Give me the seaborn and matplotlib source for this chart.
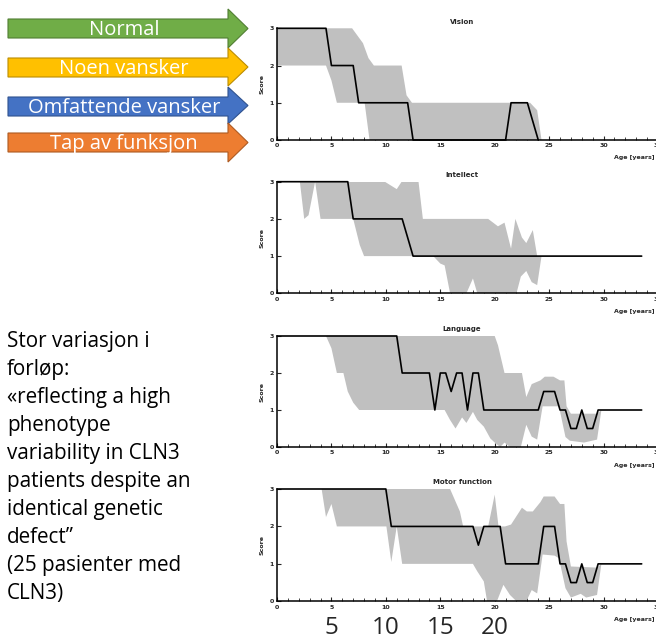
import numpy as np
import matplotlib
matplotlib.use("Agg")
import matplotlib.pyplot as plt
import seaborn as sns
from matplotlib.patches import Polygon
from matplotlib.ticker import MultipleLocator

# ---- data ----
panel_titles = ["Vision", "Intellect", "Language", "Motor function"]

# median score
vision_x = [0, 4.5, 5, 7, 7.5, 12, 12.5, 21, 21.5, 23, 24]
vision_y = [3, 3, 2, 2, 1, 1, 0, 0, 1, 1, 0]
intellect_x = [0, 6.5, 7, 11.5, 12.5, 33.5]
intellect_y = [3, 3, 2, 2, 1, 1]
language_x = [0, 11, 11.5, 14, 14.5, 15, 15.5, 16, 16.5, 17, 17.5, 18, 18.5, 19,
              24, 24.5, 25.5, 26, 26.5, 27, 27.5, 28, 28.5, 29, 29.5, 33.5]
language_y = [3, 3, 2, 2, 1, 2, 2, 1.5, 2, 2, 1, 2, 2, 1,
              1, 1.5, 1.5, 1, 1, 0.5, 0.5, 1, 0.5, 0.5, 1, 1]
motor_x = [0, 10, 10.5, 18, 18.5, 19, 20.5, 21, 24, 24.5, 25.5, 26, 26.5, 27,
           27.5, 28, 28.5, 29, 29.5, 33.5]
motor_y = [3, 3, 2, 2, 1.5, 2, 2, 1, 1, 2, 2, 1, 1, 0.5,
           0.5, 1, 0.5, 0.5, 1, 1]

# range band (upper / lower edge)
vision_up_x = [0, 6.9, 7.9, 8.4, 8.9, 11.45, 11.9, 12.4, 23.25, 23.9, 24.3]
vision_up_y = [3, 3, 2.6, 2.2, 2.0, 2.0, 1.2, 1.0, 1.0, 0.8, 0]
vision_lo_x = [0, 4.5, 5.0, 5.5, 8.05, 8.5, 24.3]
vision_lo_y = [2, 2, 1.6, 1.0, 1.0, 0, 0]

intellect_up_x = [0, 9.9, 11.0, 11.45, 13.0, 13.4, 19.4, 20.3, 20.9, 21.5, 21.9,
                  22.5, 22.9, 23.5, 23.9, 24.3]
intellect_up_y = [3, 3, 2.8, 3, 3, 2, 2, 1.8, 1.9, 1.2, 2.0,
                  1.5, 1.35, 1.7, 1.0, 1.0]
intellect_lo_x = [0, 2.1, 2.5, 2.9, 3.5, 4.0, 7.0, 7.6, 8.0, 14.35, 15.0, 15.4,
                  15.9, 17.4, 18.0, 18.4, 22.0, 22.4, 22.9, 23.4, 23.9, 24.3]
intellect_lo_y = [3, 3, 2.0, 2.1, 3, 2, 2, 1.3, 1.0, 1.0, 0.8, 0.75,
                  0, 0, 0.4, 0, 0, 0.45, 0.6, 0.3, 0.22, 1.0]

language_up_x = [0, 20.0, 20.3, 20.9, 22.5, 22.9, 23.4, 24.2, 24.6, 25.4, 26.0,
                 26.4, 26.6, 27.0, 29.4, 29.8]
language_up_y = [3, 3, 2.75, 2.0, 2.0, 1.35, 1.7, 1.8, 1.9, 1.9, 1.8,
                 1.8, 1.1, 0.9, 0.9, 1.0]
language_lo_x = [0, 4.5, 5.0, 5.5, 6.1, 6.5, 7.0, 7.55, 15.4, 15.9, 16.4, 17.0,
                 17.4, 18.0, 18.4, 19.0, 19.6, 20.0, 20.5, 20.9, 21.4, 22.4,
                 22.9, 23.4, 23.9, 24.4, 25.9, 26.5, 26.9, 28.2, 29.4, 29.8]
language_lo_y = [3, 3, 2.67, 2.0, 2.0, 1.5, 1.2, 1.0, 1.0, 0.73, 0.5, 0.8,
                 0.65, 0.95, 0.73, 0.55, 0.23, 0.12, 0, 0.12, 0, 0,
                 0.6, 0.28, 0.2, 1.1, 1.1, 0.27, 0.17, 0.12, 0.2, 1.0]

motor_up_x = [0, 15.9, 16.8, 17.1, 19.4, 20.0, 20.35, 20.95, 21.5, 22.5, 22.95,
              23.5, 24.2, 24.5, 25.5, 26.0, 26.4, 26.6, 27.0, 29.4, 29.8]
motor_up_y = [3, 3, 2.4, 2.0, 2.0, 2.85, 2.0, 2.0, 2.05, 2.5, 2.4,
              2.4, 2.65, 2.8, 2.8, 2.6, 2.6, 1.6, 0.93, 0.9, 1.0]
motor_lo_x = [0, 4.1, 4.5, 5.0, 5.5, 10.05, 10.5, 11.0, 11.5, 18.0, 18.4, 19.0,
              19.3, 20.2, 20.8, 21.4, 22.0, 22.9, 23.4, 23.9, 24.4, 25.5, 25.9,
              26.5, 27.0, 27.9, 28.4, 29.4, 29.8]
motor_lo_y = [3, 3, 2.25, 2.6, 2.0, 2.0, 1.05, 2.0, 1.0, 1.0, 0.8, 0.53,
              0, 0, 0.44, 0.17, 0, 0, 0.3, 0.21, 1.25, 1.22, 1.15,
              0.35, 0.1, 0.2, 0.1, 0.17, 1.0]

legend_labels = ["Normal", "Noen vansker", "Omfattende vansker", "Tap av funksjon"]
legend_colors = ["#70ad47", "#ffc000", "#4472c4", "#ed7d31"]
legend_edges = ["#507e32", "#bc8c00", "#2f528f", "#ae5a21"]

note_lines = ["Stor variasjon i", "forløp:", "«reflecting a high", "phenotype",
              "variability in CLN3", "patients despite an", "identical genetic",
              "defect\u201d", "(25 pasienter med", "CLN3)"]
bottom_ticks = [5, 10, 15, 20]

medians = [(vision_x, vision_y), (intellect_x, intellect_y),
           (language_x, language_y), (motor_x, motor_y)]
bands = [(vision_up_x, vision_up_y, vision_lo_x, vision_lo_y),
         (intellect_up_x, intellect_up_y, intellect_lo_x, intellect_lo_y),
         (language_up_x, language_up_y, language_lo_x, language_lo_y),
         (motor_up_x, motor_up_y, motor_lo_x, motor_lo_y)]

sns.set_theme(style="white")
plt.rcParams["font.family"] = ["DejaVu Sans"]

W, H = 656, 639
fig = plt.figure(figsize=(W / 100, H / 100), dpi=100)
fig.patch.set_facecolor("white")

# slide overlay in pixel coords
bg = fig.add_axes([0, 0, 1, 1])
bg.set_xlim(0, W)
bg.set_ylim(H, 0)
bg.axis("off")

arrow_rows = [(19, 38, 9, 48), (58, 77, 48, 86), (97, 116, 87, 124), (133, 152, 123, 162)]
for (bt, bb, ht, hb), lab, fc, ec in zip(arrow_rows, legend_labels, legend_colors, legend_edges):
    mid = (ht + hb) / 2
    pts = [(8, bt), (228, bt), (228, ht), (248, mid), (228, hb), (228, bb), (8, bb)]
    bg.add_patch(Polygon(pts, closed=True, facecolor=fc, edgecolor=ec, lw=0.8))
    bg.text(124, (bt + bb) / 2 + 1.5, lab, color="white", fontsize=14.5,
            family="Open Sans", ha="center", va="center")

for i, line in enumerate(note_lines):
    bg.text(7, 342 + i * 27.9, line, fontsize=14.9, family="Open Sans",
            ha="left", va="center", color="black")

# four panels
tops = [28.3, 181.7, 336, 489]
bottoms = [140, 293.3, 447, 601.3]
x0 = 277 / W
wid = (658 - 277) / W
axes = []
for k in range(4):
    ax = fig.add_axes([x0, 1 - bottoms[k] / H, wid, (bottoms[k] - tops[k]) / H])
    axes.append(ax)
    ux, uy, lx, ly = bands[k]
    ax.fill(np.r_[ux, lx[::-1]], np.r_[uy, ly[::-1]], color="#c0c0c0", lw=0, zorder=1)
    mx, my = medians[k]
    sns.lineplot(x=mx, y=my, ax=ax, color="black", lw=1.2, sort=False,
                 estimator=None, zorder=3)
    for l in ax.lines:
        l.set_clip_on(False)
    ax.set_xlim(0, 35)
    ax.set_ylim(0, 3)
    ax.patch.set_alpha(0)
    for s in ["top", "right"]:
        ax.spines[s].set_visible(False)
    for s in ["left", "bottom"]:
        ax.spines[s].set_color("black")
        ax.spines[s].set_linewidth(1.1)
    ax.xaxis.set_major_locator(MultipleLocator(5))
    ax.xaxis.set_minor_locator(MultipleLocator(1))
    ax.set_yticks([0, 1, 2, 3])
    ax.tick_params(axis="both", which="major", direction="in", length=3, width=0.8,
                   labelsize=4.5, pad=2.5, bottom=True, left=True)
    ax.tick_params(axis="x", which="minor", direction="in", length=2, width=0.6, bottom=True)
    for t in ax.get_xticklabels() + ax.get_yticklabels():
        t.set_fontweight("bold")
    ax.set_xlabel("")
    ax.set_ylabel("Score", fontsize=4.5, fontweight="bold", labelpad=3)
    ax.text(17, 3.1, panel_titles[k], fontsize=5, fontweight="bold",
            ha="center", va="bottom")
    fig.text(655 / W, 1 - (bottoms[k] + 18) / H, "Age [years]", fontsize=4.5,
             fontweight="bold", ha="right", va="center")

for v in bottom_ticks:
    axes[3].text(v, -0.13, str(v), transform=axes[3].get_xaxis_transform(),
                 fontsize=17.5, family="Open Sans", ha="center", va="top")

fig.savefig("out.png", dpi=100)
